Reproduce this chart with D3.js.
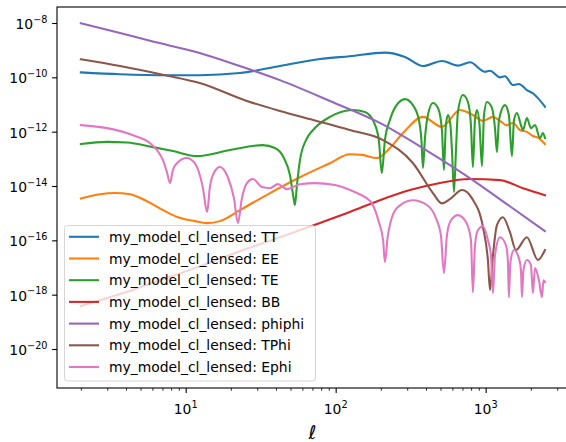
<!DOCTYPE html>
<html><head><meta charset="utf-8">
<script src="https://cdn.jsdelivr.net/npm/d3@7/dist/d3.min.js"></script>
<style>body{margin:0;background:#fff;overflow:hidden} svg{display:block;font-family:"DejaVu Sans",sans-serif;}</style>
</head><body><svg id="c" width="566" height="442"></svg>
<script>
// ---- data ----
const seriesNames = ["TT","EE","TE","BB","phiphi","TPhi","Ephi"];
const legendPrefix = "my_model_cl_lensed: ";
const seriesColors = ["#1f77b4","#ff7f0e","#2ca02c","#d62728","#9467bd","#8c564b","#e377c2"];
const xMajorTicks = [10,100,1000];
const xMajorExp = ["1","2","3"];
const xMinorTicks = [2,3,4,5,6,7,8,9,20,30,40,50,60,70,80,90,200,300,400,500,600,700,800,900,2000,3000];
const yMajorTicks = [1e-8,1e-10,1e-12,1e-14,1e-16,1e-18,1e-20];
const yMajorExp = ["\u22128","\u221210","\u221212","\u221214","\u221216","\u221218","\u221220"];
const xLabel = "\u2113";

const TT = [[2,1.52e-10],[3.65,1.3e-10],[7.86,1.2e-10],[12.4,1.2e-10],[23,1.44e-10],[42.5,2.6e-10],[78.6,4.7e-10],[124,6.0e-10],[213,8.1e-10],[290,5.6e-10],[382,2.6e-10],[511,4.0e-10],[653,2.7e-10],[786,3.6e-10],[989,1.6e-10],[1069,1.75e-10],[1246,1.0e-10],[1345,1.1e-10],[1520,5.2e-11],[1667,5.7e-11],[1883,3.4e-11],[2065,2.6e-11],[2485,8.3e-12]];
const EE = [[2,3.5e-15],[2.69,5.0e-15],[3.38,5.5e-15],[4.25,5.0e-15],[5.36,3.0e-15],[7.06,1.3e-15],[8.89,7.1e-16],[11.5,5.1e-16],[13.9,4.3e-16],[16.9,5.1e-16],[23,1.3e-15],[36.5,5.5e-15],[57.8,2.1e-14],[91.6,6.9e-14],[124,1.48e-13],[150,1.4e-13],[188,1.07e-13],[230,2.5e-13],[281,8.9e-13],[382,3.5e-12],[511,1.5e-12],[674,6.3e-12],[822,4.1e-12],[959,2.5e-12],[1119,3.5e-12],[1246,2.5e-12],[1387,1.7e-12],[1520,2.1e-12],[1693,1.15e-12],[1883,9.8e-13],[2065,6.9e-13],[2232,6.0e-13],[2485,3.5e-13]];
const TE = [[2,3.5e-13],[2.99,4.2e-13],[4.06,4.0e-13],[6.05,2.7e-13],[8.22,1.94e-13],[11.9,1.26e-13],[19.7,2.1e-13],[32.7,3.2e-13],[39.4,2.5e-13],[45.2,1.07e-13],[49.6,2.5e-14],[52.7,3.0e-15],[53.5,2.0e-15],[55.2,1.1e-14],[57.8,8.9e-14],[63.4,4.9e-13],[70.7,1.15e-12],[91.6,3.5e-12],[130,6.3e-12],[157,5.3e-12],[180,2.2e-12],[194,4.9e-13],[203,3.0e-14],[213,4.9e-13],[230,2.7e-12],[252,8.7e-12],[290,1.58e-11],[327,9.5e-12],[359,2.7e-12],[373,4.9e-13],[382,4.6e-14],[393,4.9e-13],[412,4.1e-12],[445,1.13e-11],[481,7.4e-12],[511,1.15e-12],[527,3.9e-14],[543,1.74e-12],[561,4.1e-12],[582,1.74e-12],[596,2.1e-13],[615,6.0e-15],[634,2.1e-13],[653,5.3e-12],[706,2.23e-11],[762,1.23e-11],[798,1.74e-12],[822,5.0e-14],[849,2.7e-12],[875,6.3e-12],[910,1.74e-12],[945,5.4e-14],[975,4.1e-12],[1020,1.23e-11],[1102,7.4e-12],[1154,1.35e-12],[1189,1.78e-13],[1227,2.7e-12],[1345,9.5e-12],[1428,4.1e-12],[1497,1.26e-13],[1545,2.7e-12],[1617,4.9e-12],[1719,1.74e-12],[1773,1.15e-12],[1884,3.2e-12],[2004,1.35e-12],[2133,1.74e-12],[2300,5.8e-13],[2410,8.9e-13],[2485,5.8e-13]];
const BB = [[2,3.8e-19],[3.65,1.05e-18],[6.74,3.4e-18],[12.4,1.1e-17],[23,4.0e-17],[42.5,1.3e-16],[75.2,4.0e-16],[124,1.1e-15],[197,3.0e-15],[313,7.1e-15],[496,1.3e-14],[786,1.8e-14],[1246,1.65e-14],[1773,8.3e-15],[2485,4.6e-15]];
const PHIPHI = [[2,9.8e-9],[3.65,4.3e-9],[5.78,2.2e-9],[12.4,7.9e-10],[23,2.6e-10],[42.5,7.9e-11],[91.6,1.35e-11],[197,2.1e-12],[400,2.1e-13],[820,1.66e-14],[1450,1.8e-15],[2485,2.2e-16]];
const TPHI = [[2,4.6e-10],[3.65,2.6e-10],[7.28,1.2e-10],[12.4,6.2e-11],[25.6,1.35e-11],[42.5,5.8e-12],[70.7,2.7e-12],[124,1.15e-12],[207,4.9e-13],[328,6.9e-14],[445,5.5e-15],[510,2.3e-15],[578,3.3e-15],[696,7.1e-15],[811,3.5e-15],[959,3.1e-16],[1035,1.9e-17],[1069,1.5e-18],[1119,2.8e-17],[1189,3.6e-16],[1303,7.1e-16],[1452,2.0e-16],[1592,4.4e-17],[1883,1.3e-16],[2232,1.9e-17],[2485,4.4e-17]];
const EPHI = [[2,1.74e-12],[2.99,1.35e-12],[4.46,7.4e-13],[5.78,3.8e-13],[6.44,2.1e-13],[7.06,8.9e-14],[7.5,3.2e-14],[7.86,1.28e-14],[8.22,3.9e-14],[8.75,6.9e-14],[10.2,1.07e-13],[11.5,6.9e-14],[13.0,9.1e-15],[13.9,1.1e-15],[14.5,9.1e-15],[15.5,3.2e-14],[16.9,5.0e-14],[19.1,2.1e-14],[21.0,3.5e-15],[22.3,4.3e-16],[23.7,3.5e-15],[25.6,1.28e-14],[28.1,1.8e-14],[32.3,9.1e-15],[36.5,8.3e-15],[41.2,1.17e-14],[47.3,7.7e-15],[57.8,1.17e-14],[72.8,1.28e-14],[98.9,1.08e-14],[134,6.0e-15],[157,3.9e-15],[177,2.0e-15],[194,4.7e-16],[207,1.03e-16],[213,1.6e-17],[223,1.55e-16],[256,1.55e-15],[327,3.0e-15],[406,2.0e-15],[466,6.6e-16],[503,1.55e-16],[527,6.2e-18],[552,1.55e-16],[587,5.5e-16],[653,8.5e-16],[740,4.7e-16],[798,1.03e-16],[822,1.23e-18],[849,6.6e-17],[889,2.4e-16],[959,3.3e-16],[1035,1.03e-16],[1085,2.8e-17],[1119,1.15e-18],[1154,2.8e-17],[1246,1.3e-16],[1366,6.6e-17],[1408,1.6e-17],[1428,8.1e-19],[1463,1.6e-17],[1545,4.4e-17],[1667,2.2e-17],[1719,8.0e-18],[1746,8.1e-19],[1786,8.0e-18],[1884,1.9e-17],[2004,1.23e-17],[2065,1.15e-18],[2133,9.5e-18],[2266,3.4e-18],[2372,8.1e-19],[2430,3.4e-18],[2485,2.9e-18]];
const seriesData = [TT, EE, TE, BB, PHIPHI, TPHI, EPHI];

// ---- layout ----
const L = 57, R = 568, T = 7, B = 388;
const svg = d3.select("#c");
const x = d3.scaleLog().domain([1.387, 3540]).range([L, R]);
const y = d3.scaleLog().domain([Math.pow(10,-21.435), Math.pow(10,-7.411)]).range([B, T]);

svg.append("defs").append("clipPath").attr("id","clip")
  .append("rect").attr("x",L).attr("y",T).attr("width",R-L).attr("height",B-T);

const line = d3.line().x(d => x(d[0])).y(d => y(d[1])).curve(d3.curveMonotoneX);
const plot = svg.append("g").attr("clip-path","url(#clip)");
seriesData.forEach((s,i) => {
  plot.append("path").datum(s).attr("d", line)
    .attr("fill","none").attr("stroke", seriesColors[i])
    .attr("stroke-width", 2.08).attr("stroke-linejoin","round").attr("stroke-linecap","square");
});

// axes frame
svg.append("rect").attr("x",L).attr("y",T).attr("width",R-L).attr("height",B-T)
  .attr("fill","none").attr("stroke","#000").attr("stroke-width",1.1);

// x axis ticks via d3 axes
const xAxisMajor = d3.axisBottom(x).tickValues(xMajorTicks).tickSize(4.9).tickFormat("");
const xAxisMinor = d3.axisBottom(x).tickValues(xMinorTicks).tickSize(2.8).tickFormat("");
const gxM = svg.append("g").attr("transform",`translate(0,${B})`).call(xAxisMajor);
const gxm = svg.append("g").attr("transform",`translate(0,${B})`).call(xAxisMinor);
[gxM,gxm].forEach(g => { g.select(".domain").remove(); g.selectAll("line").attr("stroke","#000"); });
gxM.selectAll("line").attr("stroke-width",1.1);
gxm.selectAll("line").attr("stroke-width",0.8);

xMajorTicks.forEach((v,i) => {
  const t = svg.append("text").attr("x", x(v)).attr("y", B+25.5)
    .attr("text-anchor","middle").attr("font-size",13.9).attr("fill","#000");
  t.append("tspan").text("10");
  t.append("tspan").attr("dy",-6).attr("font-size",9.7).text(xMajorExp[i]);
});

const yAxis = d3.axisLeft(y).tickValues(yMajorTicks).tickSize(4.9).tickFormat("");
const gy = svg.append("g").attr("transform",`translate(${L},0)`).call(yAxis);
gy.select(".domain").remove();
gy.selectAll("line").attr("stroke","#000").attr("stroke-width",1.1);
yMajorTicks.forEach((v,i) => {
  const t = svg.append("text").attr("x", L-9.5).attr("y", y(v)+6)
    .attr("text-anchor","end").attr("font-size",13.9).attr("fill","#000");
  t.append("tspan").text("10");
  t.append("tspan").attr("dy",-6.5).attr("font-size",9.7).text(yMajorExp[i]);
});

svg.append("text").attr("x",(L+R)/2).attr("y",439).attr("text-anchor","middle")
  .attr("font-size",19).attr("font-style","italic").attr("fill","#000").text(xLabel);

// legend
const lg = svg.append("g");
lg.append("rect").attr("x",64.5).attr("y",225.5).attr("width",251).attr("height",155.5)
  .attr("rx",3).attr("fill","#fff").attr("fill-opacity",0.8)
  .attr("stroke","#cccccc").attr("stroke-opacity",0.8).attr("stroke-width",1);
seriesNames.forEach((n,i) => {
  const yy = 236.8 + i*21.7;
  lg.append("line").attr("x1",69).attr("x2",99).attr("y1",yy).attr("y2",yy)
    .attr("stroke",seriesColors[i]).attr("stroke-width",2.08);
  lg.append("text").attr("x",109).attr("y",yy+5).attr("font-size",13.9).attr("fill","#000")
    .text(legendPrefix + n);
});
</script></body></html>
